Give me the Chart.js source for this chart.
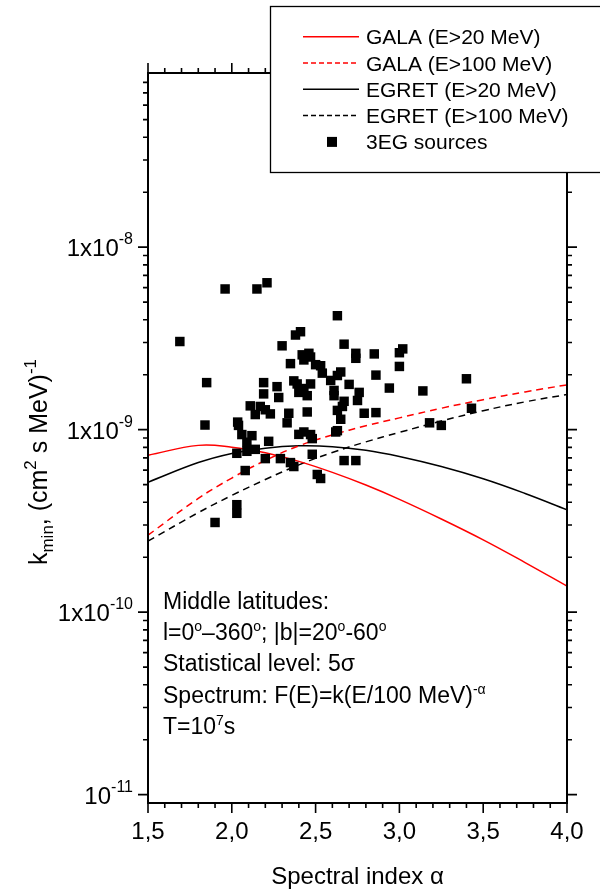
<!DOCTYPE html>
<html>
<head>
<meta charset="utf-8">
<script src="https://cdn.jsdelivr.net/npm/chart.js@4.4.0/dist/chart.umd.min.js"></script>
<style>
  html, body { margin: 0; padding: 0; background: #fff; }
  #kminChart { display: block; }
</style>
</head>
<body>
<canvas id="kminChart" width="600" height="891"></canvas>
<script>
// Spectral index grid for the sensitivity curves
const alphaGrid = [1.5, 1.8, 2.0, 2.2, 2.4, 2.6, 2.8, 3.0, 3.25, 3.5, 3.75, 4.0];
const galaE20   = [7.24e-10, 8.2e-10, 8.02e-10, 7.48e-10, 6.7e-10, 5.83e-10, 4.97e-10, 4.15e-10, 3.24e-10, 2.49e-10, 1.87e-10, 1.39e-10];
const galaE100  = [2.64e-10, 4.2e-10, 5.43e-10, 6.78e-10, 8.15e-10, 9.35e-10, 1.05e-9, 1.16e-9, 1.31e-9, 1.46e-9, 1.61e-9, 1.76e-9];
const egretE20  = [5.15e-10, 6.6e-10, 7.41e-10, 7.92e-10, 8.15e-10, 8.07e-10, 7.71e-10, 7.13e-10, 6.28e-10, 5.38e-10, 4.47e-10, 3.64e-10];
const egretE100 = [2.45e-10, 3.51e-10, 4.36e-10, 5.33e-10, 6.41e-10, 7.5e-10, 8.57e-10, 9.66e-10, 1.115e-9, 1.27e-9, 1.42e-9, 1.557e-9];

// 3EG sources: spectral index and k
const srcAlpha = [1.69, 1.96, 2.15, 2.21, 1.85, 1.84, 2.035, 2.04, 2.06, 2.12, 2.09, 2.03, 2.09, 2.14, 2.08, 2.03,
  2.03, 1.90, 2.22, 2.20, 2.29, 2.35, 2.37, 2.48, 2.51, 2.53, 2.11, 2.14, 2.17, 2.20, 2.23, 2.19, 2.19, 2.27, 2.28,
  2.30, 2.35, 2.38, 2.41, 2.34, 2.33, 2.37, 2.39, 2.40, 2.43, 2.45, 2.47, 2.45, 2.40, 2.43, 2.47, 2.48, 2.42, 2.46,
  2.43, 2.47, 2.50, 2.53, 2.54, 2.59, 2.61, 2.61, 2.63, 2.65, 2.63, 2.67, 2.74, 2.74, 2.70, 2.76, 2.75, 2.79, 2.67,
  2.66, 2.63, 2.65, 2.63, 2.62, 2.67, 2.74, 2.85, 2.86, 2.94, 3.00, 3.00, 3.02, 2.86, 3.14, 3.40, 3.43, 3.18, 3.25];
const srcK = [3.04e-9, 5.9e-9, 5.9e-9, 6.38e-9, 1.81e-9, 1.06e-9, 1.10e-9, 1.055e-9, 9.4e-10, 9.27e-10, 8.53e-10,
  7.42e-10, 7.61e-10, 7.80e-10, 5.97e-10, 3.88e-10, 3.48e-10, 3.10e-10, 8.63e-10, 6.94e-10, 6.94e-10, 6.6e-10,
  6.28e-10, 7.33e-10, 5.68e-10, 5.40e-10, 1.35e-9, 1.21e-9, 1.34e-9, 1.285e-9, 1.22e-9, 1.81e-9, 1.57e-9, 1.72e-9,
  1.50e-9, 2.88e-9, 2.30e-9, 3.30e-9, 3.44e-9, 1.23e-9, 1.09e-9, 1.85e-9, 1.78e-9, 1.60e-9, 1.68e-9, 1.535e-9,
  1.78e-9, 1.25e-9, 9.42e-10, 9.71e-10, 9.4e-10, 8.93e-10, 2.57e-9, 2.62e-9, 2.41e-9, 2.50e-9, 2.27e-9, 2.24e-9,
  2.04e-9, 1.86e-9, 1.64e-9, 1.535e-9, 1.98e-9, 2.07e-9, 4.21e-9, 2.94e-9, 2.62e-9, 2.46e-9, 1.77e-9, 1.60e-9,
  1.445e-9, 1.23e-9, 1.43e-9, 1.34e-9, 1.275e-9, 1.14e-9, 9.87e-10, 9.71e-10, 6.77e-10, 6.77e-10, 2.60e-9, 1.99e-9,
  1.69e-9, 2.22e-9, 2.64e-9, 2.77e-9, 1.24e-9, 1.63e-9, 1.90e-9, 1.31e-9, 1.09e-9, 1.055e-9];

// Axis ticks and labels
const xTickValues = [1.5, 2.0, 2.5, 3.0, 3.5, 4.0];
const xTickLabels = ['1,5', '2,0', '2,5', '3,0', '3,5', '4,0'];
const yTickValues = [1e-8, 1e-9, 1e-10, 1e-11];
const yTickBase = ['1x10', '1x10', '1x10', '10'];
const yTickExp = ['-8', '-9', '-10', '-11'];

const FONT = '"Liberation Sans", Arial, Helvetica, sans-serif';

function pts(xs, ys) {
  return xs.map((x, i) => ({ x: x, y: ys[i] }));
}

// draws a run of text pieces, some raised or lowered
function drawRich(ctx, parts, x, y, size, small, rise, drop) {
  let cx = x;
  parts.forEach(p => {
    const mode = p[1] || '';
    const s = mode ? small : size;
    ctx.font = s + 'px ' + FONT;
    const dy = mode === 'sup' ? -rise : mode === 'sub' ? drop : 0;
    ctx.fillText(p[0], cx, y + dy);
    cx += ctx.measureText(p[0]).width;
  });
  return cx - x;
}

function richWidth(ctx, parts, size, small) {
  let w = 0;
  parts.forEach(p => {
    ctx.font = (p[1] ? small : size) + 'px ' + FONT;
    w += ctx.measureText(p[0]).width;
  });
  return w;
}

const framePlugin = {
  id: 'frame',
  afterDraw(chart) {
    const ctx = chart.ctx;
    const xs = chart.scales.x, ys = chart.scales.y;
    const a = chart.chartArea;
    ctx.save();
    ctx.strokeStyle = '#000';
    ctx.fillStyle = '#000';
    ctx.lineCap = 'butt';

    // ticks on all four sides
    ctx.lineWidth = 1.6;
    ctx.beginPath();
    for (let i = 15; i <= 40; i++) {
      const px = xs.getPixelForValue(i / 10);
      const len = i % 5 === 0 ? 10 : 5;
      ctx.moveTo(px, a.bottom); ctx.lineTo(px, a.bottom + len);
      ctx.moveTo(px, a.top); ctx.lineTo(px, a.top - len);
    }
    for (let e = -12; e <= -8; e++) {
      for (let m = 1; m <= 9; m++) {
        const v = m * Math.pow(10, e);
        if (v < ys.min * 1.001 || v > ys.max * 0.999) continue;
        const py = ys.getPixelForValue(v);
        const len = m === 1 ? 10 : 5;
        ctx.moveTo(a.left, py); ctx.lineTo(a.left - len, py);
        ctx.moveTo(a.right, py); ctx.lineTo(a.right + len, py);
      }
    }
    ctx.stroke();

    // axis frame
    ctx.lineWidth = 2;
    ctx.strokeRect(a.left, a.top, a.right - a.left, a.bottom - a.top);

    // x tick labels
    ctx.font = '24px ' + FONT;
    ctx.textAlign = 'center';
    ctx.textBaseline = 'alphabetic';
    xTickValues.forEach((v, i) => {
      ctx.fillText(xTickLabels[i], xs.getPixelForValue(v), 839);
    });

    // y tick labels with exponents
    ctx.textAlign = 'left';
    yTickValues.forEach((v, i) => {
      const parts = [[yTickBase[i]], [yTickExp[i], 'sup']];
      const w = richWidth(ctx, parts, 24, 16);
      const py = ys.getPixelForValue(v);
      drawRich(ctx, parts, 133 - w, py + 9, 24, 16, 12, 0);
    });

    // x axis title
    ctx.font = '24px ' + FONT;
    ctx.textAlign = 'center';
    ctx.fillText('Spectral index \u03b1', (a.left + a.right) / 2, 884);

    // y axis title, rotated
    ctx.textAlign = 'left';
    const yt = [['k'], ['min', 'sub'], [', (cm'], ['2', 'sup'], [' s MeV)'], ['-1', 'sup']];
    const ytw = richWidth(ctx, yt, 25, 17);
    ctx.save();
    ctx.translate(46.5, 462);
    ctx.rotate(-Math.PI / 2);
    drawRich(ctx, yt, -ytw / 2, 0, 25, 17, 11, 6);
    ctx.restore();

    // conditions block
    const lines = [
      [['Middle latitudes:']],
      [['l=0'], ['o', 'sup'], ['\u2013360'], ['o', 'sup'], ['; |b|=20'], ['o', 'sup'], ['-60'], ['o', 'sup']],
      [['Statistical level: 5\u03c3']],
      [['Spectrum: F(E)=k(E/100 MeV)'], ['-\u03b1', 'sup']],
      [['T=10'], ['7', 'sup'], ['s']]
    ];
    lines.forEach((ln, i) => {
      drawRich(ctx, ln, 163, 609 + i * 31.2, 23, 14, 9, 0);
    });

    // legend box
    ctx.fillStyle = '#fff';
    ctx.fillRect(270, 6, 340, 167);
    ctx.lineWidth = 1.3;
    ctx.strokeStyle = '#000';
    ctx.strokeRect(270.5, 6.5, 340, 166);
    const legendRows = [
      { label: 'GALA (E>20 MeV)', color: '#ff0000', dash: [] },
      { label: 'GALA (E>100 MeV)', color: '#ff0000', dash: [5, 3] },
      { label: 'EGRET (E>20 MeV)', color: '#000000', dash: [] },
      { label: 'EGRET (E>100 MeV)', color: '#000000', dash: [5, 3] },
      { label: '3EG sources', color: '#000000', marker: true }
    ];
    ctx.font = '21px ' + FONT;
    legendRows.forEach((r, i) => {
      const cy = 36.7 + i * 26.3;
      if (r.marker) {
        ctx.fillStyle = '#000';
        ctx.fillRect(327, cy - 5, 10, 10);
      } else {
        ctx.strokeStyle = r.color;
        ctx.lineWidth = 1.5;
        ctx.setLineDash(r.dash);
        ctx.beginPath();
        ctx.moveTo(303, cy); ctx.lineTo(359, cy);
        ctx.stroke();
        ctx.setLineDash([]);
      }
      ctx.fillStyle = '#000';
      ctx.fillText(r.label, 366, cy + 7.5);
    });
    ctx.restore();
  }
};

const lineBase = { showLine: true, pointRadius: 0, borderWidth: 1.5, tension: 0.4, fill: false };

new Chart(document.getElementById('kminChart').getContext('2d'), {
  type: 'scatter',
  data: {
    datasets: [
      {
        label: '3EG sources',
        data: pts(srcAlpha, srcK),
        pointStyle: 'rect',
        pointRadius: 6.7,
        backgroundColor: '#000',
        borderWidth: 0
      },
      Object.assign({ label: 'GALA (E>20 MeV)', data: pts(alphaGrid, galaE20), borderColor: '#ff0000' }, lineBase),
      Object.assign({ label: 'GALA (E>100 MeV)', data: pts(alphaGrid, galaE100), borderColor: '#ff0000', borderDash: [7, 5] }, lineBase),
      Object.assign({ label: 'EGRET (E>20 MeV)', data: pts(alphaGrid, egretE20), borderColor: '#000000' }, lineBase),
      Object.assign({ label: 'EGRET (E>100 MeV)', data: pts(alphaGrid, egretE100), borderColor: '#000000', borderDash: [7, 5] }, lineBase)
    ]
  },
  options: {
    responsive: false,
    animation: false,
    layout: { padding: { left: 148, right: 33, top: 73, bottom: 88 } },
    plugins: {
      legend: { display: false },
      tooltip: { enabled: false }
    },
    scales: {
      x: { type: 'linear', min: 1.5, max: 4.0, display: false },
      y: { type: 'logarithmic', min: 9e-12, max: 9e-8, display: false }
    }
  },
  plugins: [framePlugin]
});
</script>
</body>
</html>
